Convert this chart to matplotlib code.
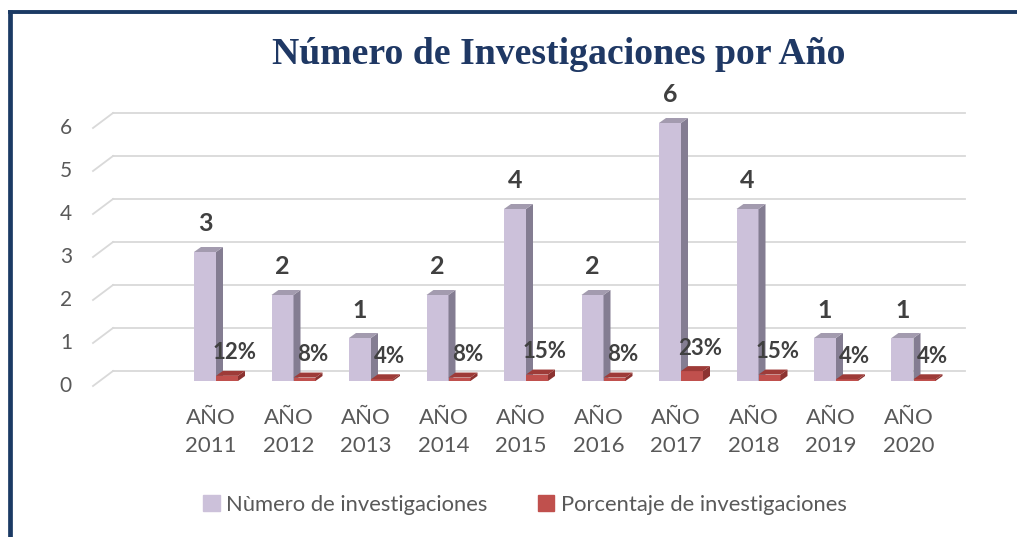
import matplotlib.pyplot as plt
from matplotlib.patches import Polygon, Patch
from matplotlib.lines import Line2D

# data
years = ['AÑO\n2011', 'AÑO\n2012', 'AÑO\n2013', 'AÑO\n2014', 'AÑO\n2015',
         'AÑO\n2016', 'AÑO\n2017', 'AÑO\n2018', 'AÑO\n2019', 'AÑO\n2020']
num_invest = [3, 2, 1, 2, 4, 2, 6, 4, 1, 1]
pct_invest = [0.12, 0.08, 0.04, 0.08, 0.15, 0.08, 0.23, 0.15, 0.04, 0.04]
pct_labels = ['12%', '8%', '4%', '8%', '15%', '8%', '23%', '15%', '4%', '4%']
y_ticks = [0, 1, 2, 3, 4, 5, 6]

W, H = 1017, 537
fig = plt.figure(figsize=(W / 100, H / 100), dpi=100)
ax = fig.add_axes([0, 0, 1, 1])
ax.axis('off')

# one category = 77.5 px, one unit of value = 43 px
PX = 1 / 77.5
PY = 1 / 43
ax.set_xlim(-216 * PX, (W - 216) * PX)
ax.set_ylim(-156 * PY, (H - 156) * PY)

font = 'Lato'
grid_c = '#D9D9D9'

# back wall gridlines with the little slanted floor edge
x_back0, x_back1 = -103 * PX, 749 * PX
for v in y_ticks:
    yb = v + 10 * PY
    ax.add_line(Line2D([x_back0, x_back1], [yb, yb], color=grid_c, lw=1.3, zorder=1))
    ax.add_line(Line2D([x_back0 - 20 * PX, x_back0], [v - 5 * PY, yb],
                       color=grid_c, lw=1.3, zorder=1))
    ax.annotate(str(v), (x_back0 - 20 * PX, v - 5 * PY), xytext=(-21, 0),
                textcoords='offset pixels', ha='right', va='center',
                fontsize=15, color='#595959', family=font)

bw = 22 * PX
dx, dy = 7 * PX, 5 * PY


def bar3d(xc, h, front, side, top, z):
    ax.bar(xc, h, width=bw, color=front, zorder=z, linewidth=0)
    r = xc + bw / 2
    l = xc - bw / 2
    ax.add_patch(Polygon([(r, 0), (r + dx, dy), (r + dx, h + dy), (r, h)],
                         closed=True, color=side, lw=0, zorder=z))
    ax.add_patch(Polygon([(l, h), (l + dx, h + dy), (r + dx, h + dy), (r, h)],
                         closed=True, color=top, lw=0, zorder=z))


for i in range(len(years)):
    xp = i - bw / 2
    xr = i + bw / 2
    bar3d(xp, num_invest[i], '#CCC1DA', '#847D92', '#A39BAF', 3)
    bar3d(xr, pct_invest[i], '#C0504D', '#8C3331', '#9E3B38', 4)

    ax.annotate(str(num_invest[i]), (xp, num_invest[i]), xytext=(0, 28),
                textcoords='offset pixels', ha='center', va='center',
                fontsize=18, fontweight='bold', color='#404040', family=font)
    ax.annotate(pct_labels[i], (xr, pct_invest[i]), xytext=(8, 23),
                textcoords='offset pixels', ha='center', va='center',
                fontsize=16, fontweight='bold', color='#404040', family=font)
    ax.annotate(years[i], (i, 0), xytext=(-5, -51),
                textcoords='offset pixels', ha='center', va='center',
                fontsize=16, color='#595959', family=font, linespacing=1.45)

fig.text(559 / W, 1 - 55 / H, 'Número de Investigaciones por Año',
         ha='center', va='center', fontsize=27.2, fontweight='bold',
         color='#1F3864', family='Liberation Serif')

handles = [Patch(color='#CCC1DA', label='Nùmero de investigaciones'),
           Patch(color='#C0504D', label='Porcentaje de investigaciones')]
fig.legend(handles=handles, loc='center', bbox_to_anchor=(525 / W, 32 / H),
           ncol=2, frameon=False, handlelength=0.75, handleheight=0.75,
           handletextpad=0.3, columnspacing=2.3,
           prop={'family': font, 'size': 15.8}, labelcolor='#595959')

# dark blue frame on top and left
fig.add_artist(Line2D([8 / W, 1.01], [1 - 11.5 / H, 1 - 11.5 / H],
                      transform=fig.transFigure, color='#1B3A64', lw=2.8,
                      solid_capstyle='butt'))
fig.add_artist(Line2D([10 / W, 10 / W], [0, 1 - 10 / H],
                      transform=fig.transFigure, color='#1B3A64', lw=3.4,
                      solid_capstyle='butt'))

fig.savefig('out.png', dpi=100)
